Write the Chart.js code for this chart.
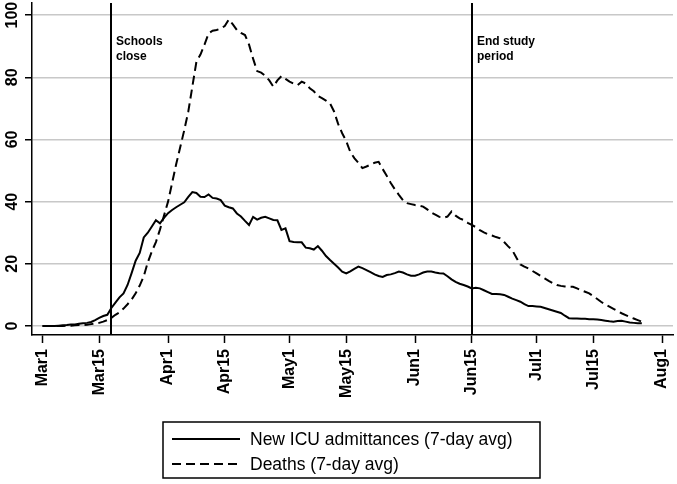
<!DOCTYPE html>
<html lang="en">
  <head>
    <meta charset="UTF-8" />
    <title>ICU admittances and deaths</title>
    <script src="https://cdn.jsdelivr.net/npm/chart.js"></script>
    <style>
      html,
      body {
        margin: 0;
        padding: 0;
        background-color: #ffffff;
      }
    </style>
  </head>
  <body>
    <canvas id="icuChart" width="677" height="484"></canvas>
    <script>
      // Days since Mar 1 (index = day), 7-day averages
      const icuValues = [
        0, 0, 0, 0, 0.1, 0.2, 0.3, 0.5, 0.5, 0.7,
        0.9, 1.0, 1.3, 1.9, 2.6, 3.2, 3.6, 5.8, 7.5, 9.2,
        10.5, 13.2, 17, 21, 23.5, 28.5, 30, 32, 34, 33,
        34.8, 36.3, 37.3, 38.2, 39, 39.8, 41.5, 43.1, 42.8, 41.6,
        41.5, 42.3, 41.2, 41, 40.5, 38.7, 38.2, 37.8, 36.2, 35.2,
        33.8, 32.5, 35.1, 34.2, 34.8, 35.1, 34.6, 34.1, 34, 30.9,
        31.4, 27.3, 27.0, 26.9, 26.9, 25.2, 25, 24.6, 25.7, 24.2,
        22.5, 21.2, 20, 18.8, 17.5, 16.9, 17.6, 18.4, 19.1, 18.6,
        18, 17.3, 16.6, 16.1, 15.8, 16.4, 16.6, 17.0, 17.5, 17.2,
        16.6, 16.2, 16.2, 16.6, 17.2, 17.5, 17.5, 17.2, 17.0, 16.9,
        16.0, 15.0, 14.2, 13.6, 13.2, 12.7, 12.1, 12.3, 12.1, 11.5,
        10.9, 10.3, 10.3, 10.2, 10.0, 9.4, 8.8, 8.3, 7.8, 7.0,
        6.4, 6.4, 6.3, 6.2, 5.8, 5.4, 5.0, 4.6, 4.2, 3.3,
        2.5, 2.4, 2.4, 2.3, 2.3, 2.2, 2.2, 2.1, 1.9, 1.7,
        1.5, 1.4, 1.6, 1.7, 1.4, 1.1, 1.0, 0.9, 0.9,
      ];
      const deathValues = [
        0, 0, 0, 0, 0, 0, 0.1, 0.1, 0.2, 0.3,
        0.3, 0.4, 0.6, 0.8, 1.0, 1.4, 1.9, 2.6, 3.6, 4.4,
        5.6, 7, 8.5, 10.5, 13, 16, 20.5, 24, 27, 31,
        35.5, 40, 46, 52, 57.5, 63, 69, 77, 85, 87.3,
        90.5, 94.1, 95, 95.2, 95.7, 96.5, 98.6, 97, 95.2, 94.3,
        93.6, 90.5, 86, 82, 81.5, 80.5, 79, 77, 79, 80.4,
        79.5, 78.6, 78, 77.5, 78.6, 78, 76.5, 75.5, 74, 73.3,
        72.5, 71.6, 69, 65, 62, 59.5, 56, 54, 52.5, 50.8,
        51.3, 51.9, 52.5, 52.8, 50.5, 48.3, 46, 44, 42.2, 40.5,
        39.5, 39.2, 38.9, 38.7, 38.4, 37.5, 36.5, 35.8, 35.1, 34.8,
        35.2, 36.8, 35.5, 34.6, 34.1, 33.2, 32.5, 31.8, 30.8, 30.1,
        29.5, 29.1, 28.6, 28.2, 27, 25.6, 24.4, 22, 19.8, 19.1,
        18.5, 17.7, 16.9, 16.1, 15.3, 14.5, 13.8, 13.2, 12.9, 12.7,
        12.6, 12.6, 12.1, 11.5, 11, 10.5, 9.6, 8.7, 7.7, 6.9,
        6.2, 5.5, 4.8, 4.1, 3.5, 2.9, 2.4, 1.9, 1.4,
      ];
      const seriesLabels = [
        "New ICU admittances (7-day avg)",
        "Deaths (7-day avg)",
      ];
      const tickDays = [0, 14, 31, 45, 61, 75, 92, 106, 122, 136, 153];
      const tickLabels = [
        "Mar1", "Mar15", "Apr1", "Apr15", "May1", "May15",
        "Jun1", "Jun15", "Jul1", "Jul15", "Aug1",
      ];
      const yTicks = [0, 20, 40, 60, 80, 100];
      const eventDays = [17, 106];
      const eventLabels = [
        ["Schools", "close"],
        ["End study", "period"],
      ];

      const fontFamily = '"Liberation Sans", Arial, sans-serif';

      const toPoints = (arr) => arr.map((v, i) => ({ x: i, y: v }));

      // vertical event lines with their captions
      const eventLines = {
        id: "eventLines",
        beforeDatasetsDraw(chart) {
          const { ctx, chartArea, scales } = chart;
          ctx.save();
          ctx.strokeStyle = "#000";
          ctx.lineWidth = 2;
          ctx.fillStyle = "#000";
          ctx.font = "bold 12px " + fontFamily;
          ctx.textBaseline = "alphabetic";
          eventDays.forEach((d, i) => {
            const x = Math.round(scales.x.getPixelForValue(d));
            ctx.beginPath();
            ctx.moveTo(x, chartArea.top);
            ctx.lineTo(x, chartArea.bottom);
            ctx.stroke();
            eventLabels[i].forEach((t, j) => {
              ctx.fillText(t, x + 5, chartArea.top + 42 + j * 15);
            });
          });
          ctx.restore();
        },
      };

      // rotated y tick labels + boxed legend below the axis
      const extras = {
        id: "extras",
        afterDraw(chart) {
          const { ctx, scales } = chart;
          ctx.save();
          ctx.fillStyle = "#000";
          ctx.font = "bold 16px " + fontFamily;
          ctx.textAlign = "center";
          ctx.textBaseline = "alphabetic";
          yTicks.forEach((v) => {
            const y = scales.y.getPixelForValue(v);
            ctx.save();
            ctx.translate(16.5, y);
            ctx.rotate(-Math.PI / 2);
            ctx.fillText(String(v), 0, 0);
            ctx.restore();
          });

          // legend box
          const bx = 163, by = 422, bw = 377, bh = 56;
          ctx.strokeStyle = "#000";
          ctx.lineWidth = 1.5;
          ctx.strokeRect(bx, by, bw, bh);
          ctx.font = "17.5px " + fontFamily;
          ctx.textAlign = "left";
          ctx.textBaseline = "middle";
          chart.data.datasets.forEach((ds, i) => {
            const y = by + 17 + i * 25;
            ctx.beginPath();
            ctx.lineWidth = ds.borderWidth;
            ctx.setLineDash(ds.borderDash || []);
            ctx.moveTo(bx + 9, y);
            ctx.lineTo(bx + 77, y);
            ctx.stroke();
            ctx.setLineDash([]);
            ctx.fillText(ds.label, bx + 87, y + 1);
          });
          ctx.restore();
        },
      };

      const ctx = document.getElementById("icuChart").getContext("2d");
      new Chart(ctx, {
        type: "line",
        data: {
          datasets: [
            {
              label: seriesLabels[0],
              data: toPoints(icuValues),
              borderColor: "#000",
              borderWidth: 2,
              pointRadius: 0,
              tension: 0,
            },
            {
              label: seriesLabels[1],
              data: toPoints(deathValues),
              borderColor: "#000",
              borderWidth: 2,
              borderDash: [9, 5],
              pointRadius: 0,
              tension: 0,
            },
          ],
        },
        options: {
          responsive: false,
          animation: false,
          layout: {
            padding: { top: 3, right: 4, left: 0, bottom: 79 },
          },
          plugins: {
            legend: { display: false },
            tooltip: { enabled: false },
          },
          scales: {
            x: {
              type: "linear",
              min: -2.6,
              max: 155.7,
              afterBuildTicks: (scale) => {
                scale.ticks = tickDays.map((v) => ({ value: v }));
              },
              afterFit: (scale) => {
                scale.height = 70;
                scale.paddingLeft = 0;
                scale.paddingRight = 0;
              },
              grid: {
                drawOnChartArea: false,
                drawTicks: true,
                tickLength: 8,
                tickColor: "#000",
                tickWidth: 1.5,
              },
              border: { display: true, color: "#000", width: 1.5 },
              ticks: {
                autoSkip: false,
                minRotation: 90,
                maxRotation: 90,
                padding: 6,
                color: "#000",
                font: { family: fontFamily, size: 16, weight: "bold" },
                callback: (value) => tickLabels[tickDays.indexOf(value)],
              },
            },
            y: {
              min: -2.9,
              max: 103.9,
              afterBuildTicks: (scale) => {
                scale.ticks = yTicks.map((v) => ({ value: v }));
              },
              afterFit: (scale) => {
                scale.width = 32;
              },
              grid: {
                color: "#c8c8c8",
                lineWidth: 1.5,
                drawTicks: true,
                tickLength: 7,
                tickColor: "#000",
                tickWidth: 1.5,
              },
              border: { display: true, color: "#000", width: 1.5 },
              ticks: { display: false },
            },
          },
        },
        plugins: [eventLines, extras],
      });
    </script>
  </body>
</html>
